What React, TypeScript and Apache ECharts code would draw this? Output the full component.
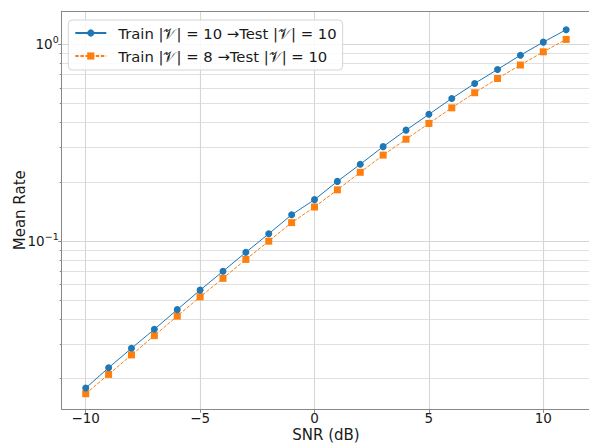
import React, { useEffect, useRef } from "react";
import * as echarts from "echarts";

const snr = [-10, -9, -8, -7, -6, -5, -4, -3, -2, -1, 0, 1, 2, 3, 4, 5, 6, 7, 8, 9, 10, 11];
const rate10to10 = [0.0179, 0.0227, 0.0285, 0.0356, 0.0448, 0.0563, 0.0702, 0.0876, 0.1089, 0.1359, 0.1623, 0.2009, 0.2456, 0.3018, 0.366, 0.4404, 0.5304, 0.6316, 0.7447, 0.8793, 1.025, 1.186];
const rate8to10 = [0.01675, 0.021, 0.02638, 0.03306, 0.04153, 0.05205, 0.06463, 0.08063, 0.0998, 0.124, 0.1489, 0.182, 0.2235, 0.2733, 0.3291, 0.3958, 0.4752, 0.567, 0.6697, 0.7841, 0.9151, 1.058];
const xTicks = [-10, -5, 0, 5, 10];
const yMajorTicks = [0.1, 1];
const yMinorTicks = [0.02, 0.03, 0.04, 0.05, 0.06, 0.07, 0.08, 0.09, 0.2, 0.3, 0.4, 0.5, 0.6, 0.7, 0.8, 0.9];
const seriesNames = ["Train |𝒱| = 10 →Test |𝒱| = 10", "Train |𝒱| = 8 →Test |𝒱| = 10"];

const FONT = "DejaVu Sans";
const Y_MIN = 0.01396;
const Y_MAX = 1.472;

export default function App() {
  const ref = useRef<HTMLDivElement>(null);
  useEffect(() => {
    if (!ref.current) return;
    const chart = echarts.init(ref.current, undefined, { renderer: "svg" });
    const supMap: Record<string, string> = { "1": "{b|10}{s|0}", "0.1": "{b|10}{s|−1}" };
    chart.setOption({
      animation: false,
      backgroundColor: "#ffffff",
      textStyle: { fontFamily: FONT },
      grid: { left: 61.7, top: 11.2, width: 528.5, height: 398.1, containLabel: false, outerBoundsMode: "none" },
      legend: {
        orient: "vertical",
        left: 68.3,
        top: 20,
        padding: [4, 6, 5, 6],
        itemWidth: 31,
        itemHeight: 9,
        itemGap: 5,
        itemStyle: { borderWidth: 0 },
        backgroundColor: "rgba(255,255,255,0.85)",
        borderColor: "#d5d5d5",
        borderWidth: 1,
        borderRadius: 4,
        textStyle: { fontFamily: FONT, fontSize: 14.8, color: "#1a1a1a", lineHeight: 18, padding: [0, 0, 0, 7] },
        data: seriesNames,
      },
      xAxis: [
        {
          type: "value",
          min: -11.05,
          max: 12.05,
          position: "bottom",
          name: "SNR (dB)",
          nameLocation: "middle",
          nameGap: 18.5,
          nameMoveOverlap: false,
          nameTextStyle: { fontFamily: FONT, fontSize: 15, color: "#1a1a1a", lineHeight: 15 },
          axisLine: { show: true, onZero: false, lineStyle: { color: "#888", width: 1 } },
          axisTick: { show: true, customValues: xTicks, length: 3.5, lineStyle: { color: "#888" } },
          axisLabel: { customValues: xTicks, fontFamily: FONT, fontSize: 13.5, lineHeight: 14, color: "#1a1a1a", margin: 2, formatter: (v: number) => (v < 0 ? "−" + Math.abs(v) : String(v)) },
          splitLine: { show: true, lineStyle: { color: "#d6d6d6", width: 1.1 } },
        },
        {
          type: "value",
          min: -11.05,
          max: 12.05,
          position: "top",
          axisLine: { show: true, onZero: false, lineStyle: { color: "#888", width: 1 } },
          axisTick: { show: false },
          axisLabel: { show: false },
          splitLine: { show: false },
        },
      ],
      yAxis: [
        {
          type: "log",
          logBase: 10,
          min: Y_MIN,
          max: Y_MAX,
          position: "left",
          name: "Mean Rate",
          nameLocation: "middle",
          nameGap: 34,
          nameMoveOverlap: false,
          nameTextStyle: { fontFamily: FONT, fontSize: 15, color: "#1a1a1a" },
          axisLine: { show: true, onZero: false, lineStyle: { color: "#888", width: 1 } },
          axisTick: { show: true, customValues: yMajorTicks, length: 3.5, lineStyle: { color: "#888" } },
          axisLabel: {
            customValues: yMajorTicks,
            margin: 3,
            formatter: (v: number) => supMap[String(Math.round(v * 10) / 10)] ?? String(v),
            rich: {
              b: { fontFamily: FONT, fontSize: 13.5, color: "#1a1a1a" },
              s: { fontFamily: FONT, fontSize: 9.5, color: "#1a1a1a", padding: [0, 0, 9, 0] },
            },
          },
          splitLine: { show: true, lineStyle: { color: "#d6d6d6", width: 1.1 } },
        },
        {
          type: "log",
          logBase: 10,
          min: Y_MIN,
          max: Y_MAX,
          position: "left",
          axisLine: { show: false, onZero: false },
          axisTick: { show: true, customValues: yMinorTicks, length: 2, lineStyle: { color: "#888" } },
          axisLabel: { show: false, customValues: yMinorTicks },
          splitLine: { show: true, lineStyle: { color: "#e0e0e0", width: 1 } },
        },
      ],
      series: [
        {
          name: seriesNames[0],
          type: "line",
          xAxisIndex: 0,
          yAxisIndex: 0,
          data: snr.map((x, i) => [x, rate10to10[i]]),
          symbol: "circle",
          symbolSize: 7,
          lineStyle: { color: "#1f77b4", width: 1 },
          itemStyle: { color: "#1f77b4" },
          z: 3,
        },
        {
          name: seriesNames[1],
          type: "line",
          xAxisIndex: 0,
          yAxisIndex: 0,
          data: snr.map((x, i) => [x, rate8to10[i]]),
          symbol: "rect",
          symbolSize: 7,
          lineStyle: { color: "#ff7f0e", width: 1, type: [3.5, 1.6] },
          itemStyle: { color: "#ff7f0e" },
          z: 2,
        },
      ],
    });
    return () => chart.dispose();
  }, []);
  return <div ref={ref} style={{ width: 589, height: 443, position: "absolute", left: 0, top: 0 }} />;
}
